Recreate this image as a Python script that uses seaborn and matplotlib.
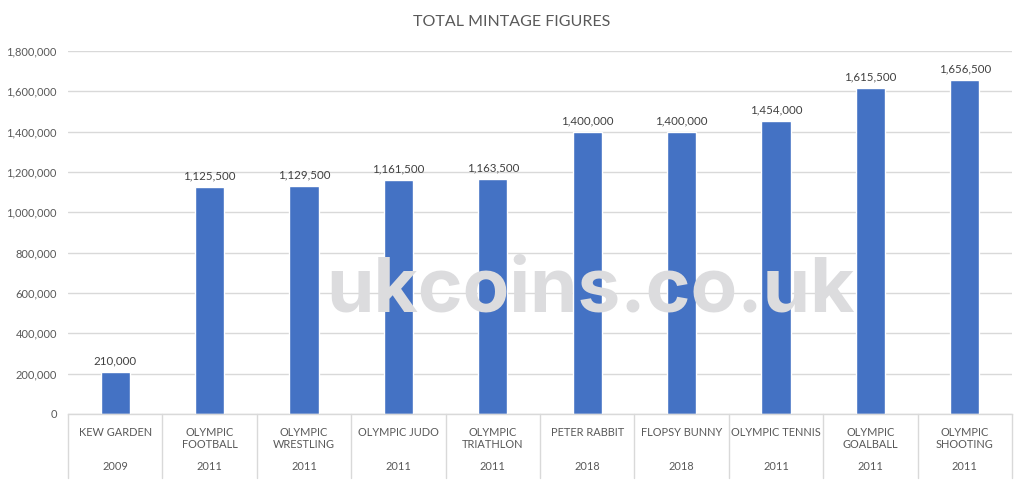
import matplotlib
matplotlib.use("Agg")
import matplotlib.pyplot as plt
import matplotlib.transforms as mtransforms
import seaborn as sns
import pandas as pd

names = ["KEW GARDEN", "OLYMPIC\nFOOTBALL", "OLYMPIC\nWRESTLING", "OLYMPIC JUDO",
         "OLYMPIC\nTRIATHLON", "PETER RABBIT", "FLOPSY BUNNY", "OLYMPIC TENNIS",
         "OLYMPIC\nGOALBALL", "OLYMPIC\nSHOOTING"]
years = ["2009", "2011", "2011", "2011", "2011", "2018", "2018", "2011", "2011", "2011"]
mintage = [210000, 1125500, 1129500, 1161500, 1163500, 1400000, 1400000, 1454000, 1615500, 1656500]
yticks = [0, 200000, 400000, 600000, 800000, 1000000, 1200000, 1400000, 1600000, 1800000]

sns.set_theme(style="white")
plt.rcParams['font.family'] = ['Lato', 'DejaVu Sans']

df = pd.DataFrame({"name": names, "value": mintage})

fig = plt.figure(figsize=(10.24, 4.84), dpi=100)
ax = fig.add_axes([68/1024, 1-414/484, (1012-68)/1024, (414-51)/484])

sns.barplot(data=df, x="name", y="value", color="#4472C4", width=0.31,
            saturation=1, ax=ax, zorder=2)

ax.set_ylim(0, 1800000)
ax.set_xlim(-0.5, len(names)-0.5)
ax.set_yticks(yticks)
ax.set_yticklabels([f"{v:,}" for v in yticks], color="#595959", fontsize=8)
ax.yaxis.grid(True, color="#D9D9D9", lw=1, zorder=0)
ax.tick_params(axis='y', length=0, pad=8)
ax.tick_params(axis='x', length=0, pad=9)
ax.set_xticks(range(len(names)))
ax.set_xticklabels(names, color="#595959", fontsize=7.9, linespacing=1.15)
ax.set_xlabel("")
ax.set_ylabel("")
for s in ["top", "right", "left"]:
    ax.spines[s].set_visible(False)
ax.spines["bottom"].set_color("#D9D9D9")
ax.spines["bottom"].set_linewidth(1)

for c in ax.containers:
    ax.bar_label(c, labels=[f"{v:,}" for v in mintage], padding=4,
                 fontsize=8.3, color="#404040")

trans = mtransforms.blended_transform_factory(ax.transData, ax.transAxes)
for i, y in enumerate(years):
    ax.text(i, -0.146, y, transform=trans, ha="center", va="center",
            fontsize=7.9, color="#595959")
for b in range(len(names)+1):
    ax.plot([b-0.5, b-0.5], [0, -64/363], transform=trans, color="#D9D9D9",
            lw=1, clip_on=False)

fig.text(0.5, 1-22/484, "TOTAL MINTAGE FIGURES", ha="center", va="center",
         fontsize=11.5, color="#595959")

fig.text(590/1024, 1-292/484, "ukcoins.co.uk", ha="center", va="center",
         fontsize=55, fontweight="bold", color="#DCDCDE", family=["Inter", "DejaVu Sans"],
         zorder=10)

fig.savefig("out.png", dpi=100)
